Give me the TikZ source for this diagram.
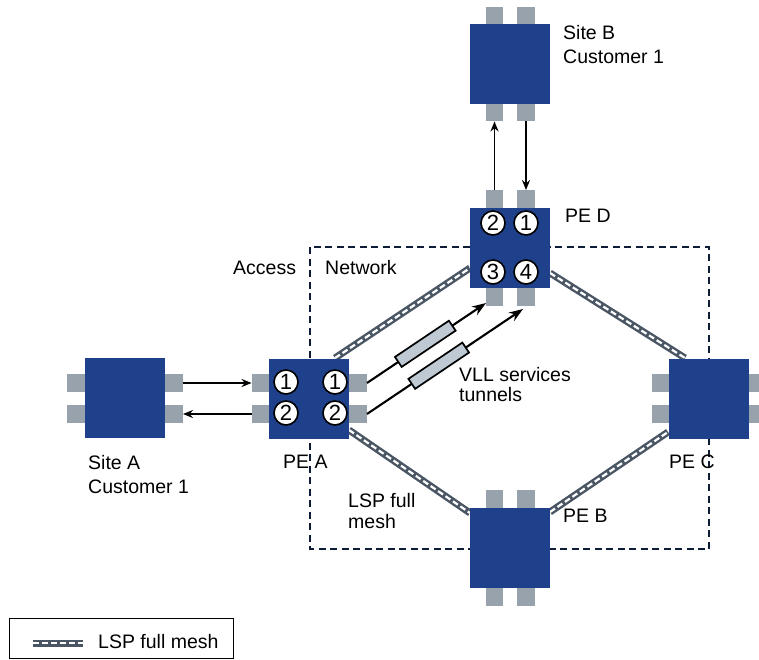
\documentclass[tikz,border=0pt]{standalone}
\usepackage{fontspec}
\setmainfont{Liberation Sans}
\usetikzlibrary{arrows.meta,calc}
\definecolor{boxblue}{RGB}{31,65,139}
\definecolor{portgray}{RGB}{152,162,172}
\definecolor{lspgray}{RGB}{74,86,100}
\definecolor{tunfill}{RGB}{190,201,212}
\definecolor{navy}{RGB}{15,28,56}
\begin{document}
\begin{tikzpicture}[x=1pt,y=-1pt,
  every node/.style={font=\fontsize{19.5}{24}\selectfont},
  devbox/.style={rectangle,fill=boxblue,minimum width=80pt,minimum height=80pt,inner sep=0pt},
  port/.style={rectangle,fill=portgray,minimum width=17.5pt,minimum height=17.5pt,inner sep=0pt},
  num/.style={circle,draw=black,line width=1.6pt,fill=white,minimum size=24pt,inner sep=0pt,font=\fontsize{22}{22}\selectfont},
  lsp/.style={draw=lspgray,line width=7pt,postaction={draw=white,line width=2.2pt,dash pattern=on 6pt off 3pt}},
  arr/.style={draw=black,line width=1.7pt,-{Stealth[length=10pt,width=8pt]}},
  vll/.style={draw=black,line width=2.1pt,-{Stealth[length=14pt,width=10pt]}},
  tunnel/.style={rectangle,draw=black,line width=1.7pt,fill=tunfill,minimum width=65pt,minimum height=12pt,inner sep=0pt},
  lbl/.style={anchor=base west,align=left,inner sep=0pt},
  netbox/.style={draw=navy,line width=2.3pt,dash pattern=on 7pt off 4.5pt}
]
\useasboundingbox (0,0) rectangle (759,659);

% access network dashed rectangle
\draw[netbox] (310,247) rectangle (709,549);

% LSP endpoints
\coordinate (lAD1) at (335,358); \coordinate (lAD2) at (470,268);
\coordinate (lDC1) at (550,273); \coordinate (lDC2) at (685,358);
\coordinate (lAB1) at (349,430); \coordinate (lAB2) at (470,513);
\coordinate (lBC1) at (550,512); \coordinate (lBC2) at (668,432);
\draw[lsp] (lAD1) -- (lAD2);
\draw[lsp] (lDC1) -- (lDC2);
\draw[lsp] (lAB1) -- (lAB2);
\draw[lsp] (lBC1) -- (lBC2);

% Site A
\node[devbox] (siteA) at (125,398) {};
\node[port] (sAl1) at (76,383) {};
\node[port] (sAl2) at (76,414) {};
\node[port] (sAr1) at (174,383) {};
\node[port] (sAr2) at (174,414) {};

% PE A
\node[devbox] (peA) at (309,399) {};
\node[port] (pAl1) at (260.5,383) {};
\node[port] (pAl2) at (260.5,414) {};
\node[port] (pAr1) at (358,383) {};
\node[port] (pAr2) at (358,414) {};
\node[num] (nA1) at (286,382) {1};
\node[num] (nA2) at (286,413) {2};
\node[num] (nA3) at (335,382) {1};
\node[num] (nA4) at (335,413) {2};

% PE D
\node[devbox] (peD) at (510,248) {};
\node[port] (pDt2) at (494.5,199) {};
\node[port] (pDt1) at (526,199) {};
\node[port] (pDb3) at (494.5,297) {};
\node[port] (pDb4) at (526,297) {};
\node[num] (nD2) at (493,223) {2};
\node[num] (nD1) at (526,223) {1};
\node[num] (nD3) at (493,272) {3};
\node[num] (nD4) at (526,272) {4};

% Site B
\node[devbox] (siteB) at (510,64) {};
\node[port] (sBt1) at (494.5,15.5) {};
\node[port] (sBt2) at (526,15.5) {};
\node[port] (sBb1) at (494.5,112.5) {};
\node[port] (sBb2) at (526,112.5) {};

% PE C
\node[devbox] (peC) at (709,399) {};
\node[port] (pCl1) at (660.5,383) {};
\node[port] (pCl2) at (660.5,414) {};
\node[port] (pCr1) at (758,383) {};
\node[port] (pCr2) at (758,414) {};

% PE B
\node[devbox] (peB) at (510,548) {};
\node[port] (pBt1) at (494.5,499) {};
\node[port] (pBt2) at (526,499) {};
\node[port] (pBb1) at (494.5,597) {};
\node[port] (pBb2) at (526,597) {};

% access arrows
\draw[arr] (sAr1.east) -- (pAl1.west);
\draw[arr] (pAl2.west) -- (sAr2.east);
\draw[arr] (pDt2.north) -- (sBb1.south);
\draw[arr] (sBb2.south) -- (pDt1.north);

% VLL tunnels
\coordinate (tipA) at (486,303);
\coordinate (tipB) at (523,309);
\draw[vll] (pAr1.east) -- (tipA) node[tunnel,sloped,pos=0.49] (tun1) {};
\draw[vll] (pAr2.east) -- (tipB) node[tunnel,sloped,pos=0.46] (tun2) {};

% labels
\node[lbl] (lSiteB) at (563,63) {Site B\\Customer 1};
\node[lbl] (lPED) at (565,222) {PE D};
\node[lbl] (lAccess) at (233,274) {Access};
\node[lbl] (lNet) at (325,274) {Network};
\node[lbl,font=\fontsize{19.5}{19.5}\selectfont] (lVLL) at (459,401) {VLL services\\tunnels};
\node[lbl] (lSiteA) at (88,493) {Site A\\Customer 1};
\node[lbl] (lPEA) at (283,468) {PE A};
\node[lbl] (lPEC) at (669,468) {PE C};
\node[lbl] (lPEB) at (563,522) {PE B};
\node[lbl,font=\fontsize{19.5}{21}\selectfont] (lLSP) at (348,528) {LSP full\\mesh};

% legend
\node[draw=black,line width=1.2pt,rectangle,minimum width=224pt,minimum height=40pt,anchor=north west,inner sep=0pt] (legend) at (9,618) {};
\coordinate (lg1) at (33,643); \coordinate (lg2) at (83,643);
\draw[lsp] (lg1) -- (lg2);
\node[lbl] (lgText) at (98,648) {LSP full mesh};
\end{tikzpicture}
\end{document}
